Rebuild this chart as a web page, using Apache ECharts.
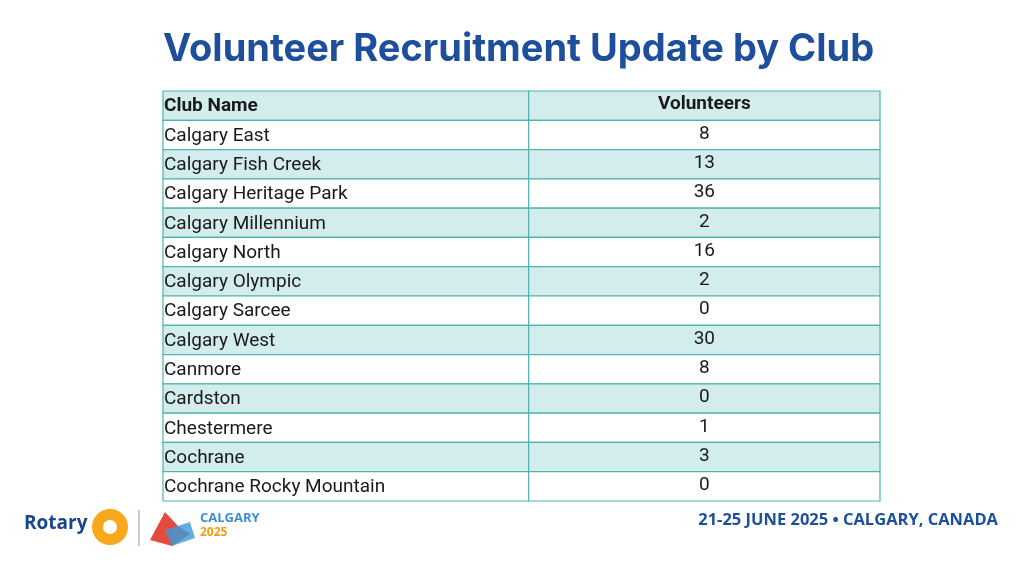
<!DOCTYPE html>
<html><head><meta charset="utf-8">
<script src="https://cdn.jsdelivr.net/npm/echarts@6/dist/echarts.min.js"></script>
<style>html,body{margin:0;padding:0;background:#fff}#c{width:1024px;height:576px}</style>
</head><body><div id="c"></div>
<script>
const headers = ['Club Name', 'Volunteers'];
const clubs = ['Calgary East','Calgary Fish Creek','Calgary Heritage Park','Calgary Millennium','Calgary North','Calgary Olympic','Calgary Sarcee','Calgary West','Canmore','Cardston','Chestermere','Cochrane','Cochrane Rocky Mountain'];
const volunteers = [8,13,36,2,16,2,0,30,8,0,1,3,0];

const rows = [headers].concat(clubs.map((c, i) => [c, String(volunteers[i])]));
const split = 0.51; // column divide as fraction of table width

let chart = echarts.init(document.getElementById('c'));
chart.setOption({
  animation: false,
  title: {
    text: 'Volunteer Recruitment Update by Club',
    left: 158, top: 26,
    textStyle: {fontFamily: 'Inter', fontWeight: 'bold', fontSize: 38, color: '#1d4f9c'}
  },
  grid: {left: 163, right: 144, top: 91, bottom: 75},
  xAxis: {type: 'value', min: 0, max: 1, show: false},
  yAxis: {type: 'category', data: rows.map((r, i) => i), inverse: true, show: false},
  series: [{
    type: 'custom',
    data: rows.map((r, i) => [0, i]),
    renderItem: function (params, api) {
      const i = api.value(1);
      const p0 = api.coord([0, i]);
      const p1 = api.coord([1, i]);
      const h = api.size([0, 1])[1];
      const pm = api.coord([split, i]);
      const top = p0[1] - h / 2;
      const fill = i % 2 === 0 ? '#d3ecec' : '#ffffff';
      const bold = i === 0;
      const r = rows[i];
      const ts = {fontFamily: 'Roboto', fontSize: 19, fontWeight: bold ? 'bold' : 'normal', fill: '#1a1a1a'};
      return {type: 'group', children: [
        {type: 'rect', shape: {x: p0[0], y: top, width: pm[0] - p0[0], height: h}, style: {fill: fill, stroke: '#4fb3b0', lineWidth: 1.2}},
        {type: 'rect', shape: {x: pm[0], y: top, width: p1[0] - pm[0], height: h}, style: {fill: fill, stroke: '#4fb3b0', lineWidth: 1.2}},
        {type: 'text', style: Object.assign({text: r[0], x: p0[0] + 1, y: p0[1] + 1, textVerticalAlign: 'middle'}, ts)},
        {type: 'text', style: Object.assign({text: r[1], x: (pm[0] + p1[0]) / 2, y: p0[1] - 1, textAlign: 'center', textVerticalAlign: 'middle'}, ts)}
      ]};
    }
  }],
  graphic: [
    {type: 'text', left: 24, top: 514, style: {text: 'Rotary', fontFamily: 'Open Sans', fontWeight: 'bold', fontSize: 19, fill: '#17458f'}},
    {type: 'circle', shape: {cx: 110, cy: 527, r: 18}, style: {fill: '#f7a81b'}},
    {type: 'circle', shape: {cx: 110, cy: 527, r: 7}, style: {fill: '#fff'}},
    {type: 'line', shape: {x1: 139, y1: 510, x2: 139, y2: 546}, style: {stroke: '#999', lineWidth: 1}},
    {type: 'polygon', shape: {points: [[150,540],[165,512],[178,526],[190,534],[172,546]]}, style: {fill: '#e54b3c'}},
    {type: 'polygon', shape: {points: [[165,530],[190,522],[195,538],[172,546]]}, style: {fill: '#3a9ad9', opacity: 0.8}},
    {type: 'text', left: 200, top: 512, style: {text: 'CALGARY', fontFamily: 'Open Sans', fontWeight: 'bold', fontSize: 13, fill: '#3a8fd0'}},
    {type: 'text', left: 200, top: 527, style: {text: '2025', fontFamily: 'Open Sans', fontWeight: 'bold', fontSize: 12, fill: '#f39c12'}},
    {type: 'text', right: 26, top: 512, style: {text: '21-25 JUNE 2025 • CALGARY, CANADA', fontFamily: 'Open Sans', fontWeight: 'bold', fontSize: 16.5, fill: '#1d4f9c'}}
  ]
});
</script></body></html>
